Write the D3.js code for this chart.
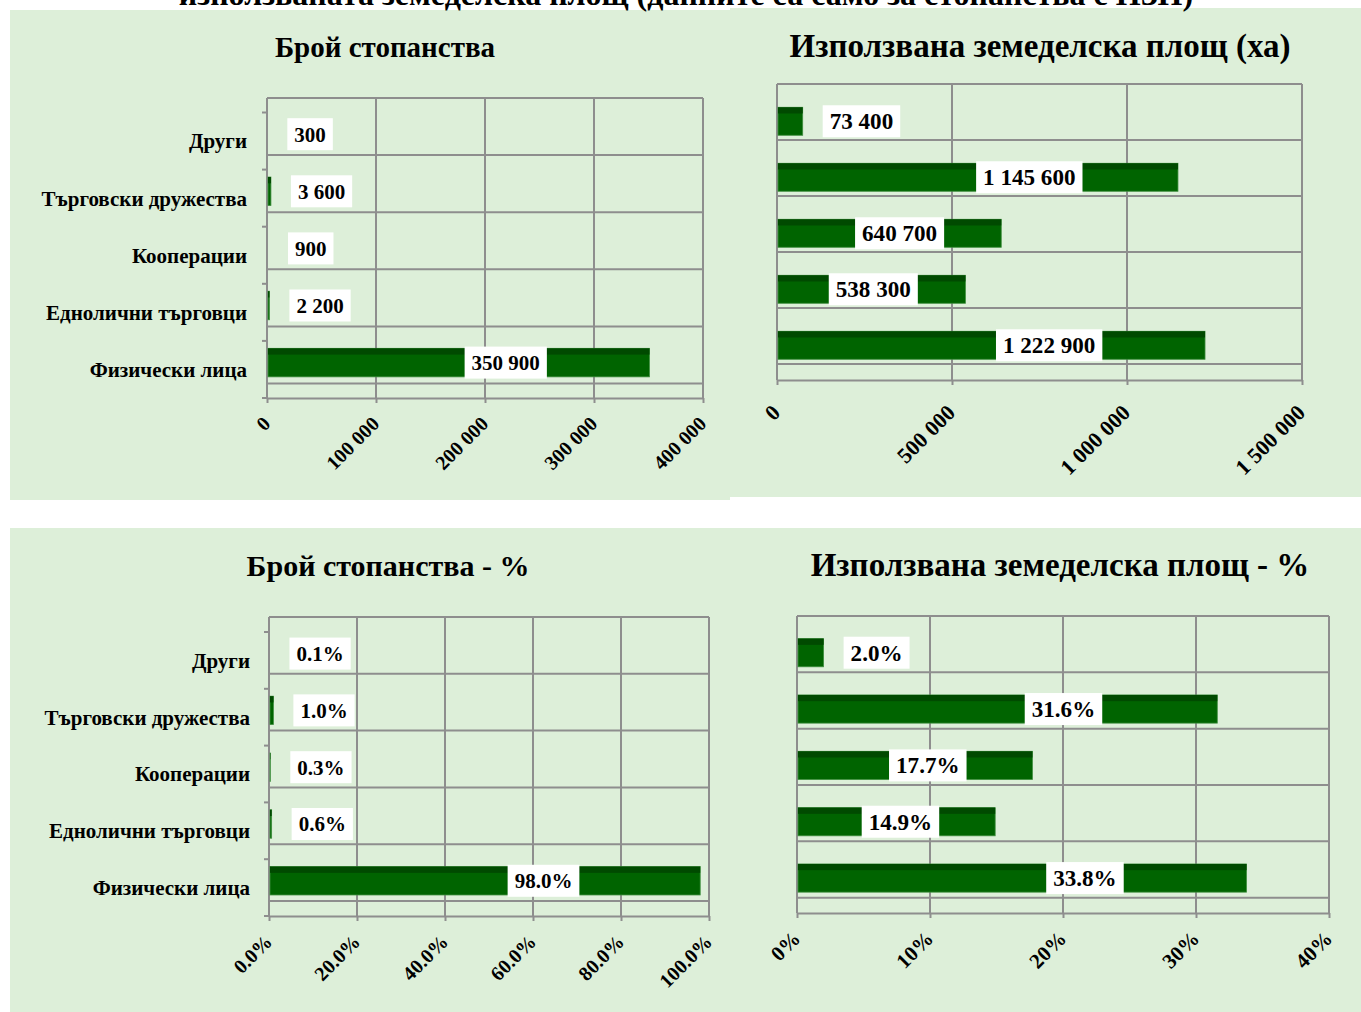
<!DOCTYPE html>
<html>
<head>
<meta charset="utf-8">
<script src="https://cdn.jsdelivr.net/npm/d3@7"></script>
<style>
  body { margin: 0; background: #fff; }
  svg { display: block; }
  text { font-family: "Liberation Serif", "Times New Roman", serif; font-weight: bold; fill: #000; }
</style>
</head>
<body>
<svg id="chart" width="1361" height="1012"></svg>
<script>
// data
const categories = ["Други", "Търговски дружества", "Кооперации", "Еднолични търговци", "Физически лица"];
const farmsCount = [300, 3600, 900, 2200, 350900];
const areaHa = [73400, 1145600, 640700, 538300, 1222900];
const farmsPct = [0.1, 1.0, 0.3, 0.6, 98.0];
const areaPct = [2.0, 31.6, 17.7, 14.9, 33.8];

const countTicks = [0, 100000, 200000, 300000, 400000];
const areaTicks = [0, 500000, 1000000, 1500000];
const farmsPctTicks = [0, 20, 40, 60, 80, 100];
const areaPctTicks = [0, 10, 20, 30, 40];

const pageTitle = "използваната земеделска площ (данните са само за стопанства с НЗП)";
const titles = ["Брой стопанства", "Използвана земеделска площ (ха)", "Брой стопанства - %", "Използвана земеделска площ - %"];

const bg = "#ddefd9";
const gridColor = "#8e8e8e";
const barColor = "#006400";
const barTop = "#004a00";

const loc = d3.formatLocale({ decimal: ".", thousands: " ", grouping: [3], currency: ["", ""] });
const fmtInt = loc.format(",d");
const fmtPct1 = v => v.toFixed(1) + "%";
const fmtPct0 = v => v.toFixed(0) + "%";

const svg = d3.select("#chart");

// backgrounds
svg.append("rect").attr("x", 10).attr("y", 10).attr("width", 720).attr("height", 490).attr("fill", bg);
svg.append("rect").attr("x", 730).attr("y", 8).attr("width", 631).attr("height", 489).attr("fill", bg);
svg.append("rect").attr("x", 10).attr("y", 528).attr("width", 1351).attr("height", 484).attr("fill", bg);

// heading of the page, cut by the top edge as in the source
svg.append("text")
  .attr("x", 686).attr("y", 5)
  .attr("text-anchor", "middle")
  .style("font-size", "32px")
  .text(pageTitle);

function drawChart(cfg) {
  const g = svg.append("g");
  const k = cfg.fontScale;

  const x = d3.scaleLinear().domain([0, d3.max(cfg.ticks)]).range([cfg.x0, cfg.x1]);
  const y = d3.scaleBand().domain(categories).range([cfg.gridTop + cfg.depth, cfg.axisY]);
  const bw = y.bandwidth();

  // title
  g.append("text")
    .attr("x", cfg.titleX).attr("y", cfg.titleY)
    .attr("text-anchor", "middle")
    .style("font-size", cfg.titleSize + "px")
    .text(cfg.title);

  // back wall gridlines (horizontal, shifted up by depth)
  const rows = categories.map(c => y(c) - cfg.depth).concat([cfg.axisY - cfg.depth]);
  g.selectAll(".hgrid").data(rows).enter().append("line")
    .attr("x1", cfg.x0).attr("x2", cfg.x1)
    .attr("y1", d => d).attr("y2", d => d)
    .attr("stroke", gridColor).attr("stroke-width", 2);

  // vertical gridlines
  g.selectAll(".vgrid").data(cfg.ticks).enter().append("line")
    .attr("x1", d => x(d)).attr("x2", d => x(d))
    .attr("y1", cfg.gridTop).attr("y2", cfg.axisY)
    .attr("stroke", gridColor).attr("stroke-width", 2);

  // left axis, ticks at band edges only where categories are named
  g.append("line")
    .attr("x1", cfg.x0).attr("x2", cfg.x0)
    .attr("y1", cfg.gridTop).attr("y2", cfg.axisY)
    .attr("stroke", gridColor).attr("stroke-width", 2);
  if (cfg.labelX) {
    g.selectAll(".ytick").data(categories.map(c => y(c)).concat([cfg.axisY])).enter().append("line")
      .attr("x1", cfg.x0 - 5).attr("x2", cfg.x0)
      .attr("y1", d => d).attr("y2", d => d)
      .attr("stroke", gridColor).attr("stroke-width", 2);
  }

  // bottom axis
  const axis = d3.axisBottom(x).tickValues(cfg.ticks).tickSize(5).tickSizeOuter(0).tickFormat(cfg.tickFmt);
  const ax = g.append("g").attr("transform", `translate(0,${cfg.axisY})`).call(axis);
  ax.select(".domain").attr("stroke", gridColor).attr("stroke-width", 2);
  ax.selectAll(".tick line").attr("stroke", gridColor).attr("stroke-width", 2);
  ax.selectAll(".tick text")
    .attr("x", 0).attr("y", 0).attr("dy", null)
    .attr("text-anchor", "end")
    .attr("transform", `translate(4,${cfg.tickDrop}) rotate(-45)`)
    .style("font-size", cfg.tickSize + "px")
    .style("font-family", "'Liberation Serif', 'Times New Roman', serif")
    .style("font-weight", "bold")
    .attr("fill", "#000");

  // category labels
  if (cfg.labelX) {
    g.selectAll(".cat").data(categories).enter().append("text")
      .attr("x", cfg.labelX)
      .attr("y", d => y(d) + bw / 2)
      .attr("dy", "0.35em")
      .attr("text-anchor", "end")
      .style("font-size", "21px")
      .text(d => d);
  }

  // bars
  const bars = g.selectAll(".bar").data(cfg.values).enter().append("g");
  bars.append("rect")
    .attr("x", cfg.x0 + 1)
    .attr("y", (d, i) => y(categories[i]) + bw * 0.13)
    .attr("width", d => Math.max(0, x(d) - cfg.x0 - 1))
    .attr("height", bw * 0.5)
    .attr("fill", barColor)
    .attr("stroke", "#3f8f3f").attr("stroke-width", 0.8);
  bars.append("rect")
    .attr("x", cfg.x0 + 1)
    .attr("y", (d, i) => y(categories[i]) + bw * 0.13)
    .attr("width", d => Math.max(0, x(d) - cfg.x0 - 1))
    .attr("height", bw * 0.11)
    .attr("fill", barTop);

  // data labels in white boxes
  const labels = g.selectAll(".lbl").data(cfg.values).enter().append("g");
  labels.each(function (d, i) {
    const lg = d3.select(this);
    const cy = y(categories[i]) + bw * 0.13 + bw * 0.25;
    const t = lg.append("text")
      .attr("text-anchor", "middle")
      .attr("dy", "0.35em")
      .style("font-size", (21 * k) + "px")
      .text(cfg.labelFmt(d));
    const w = t.node().getComputedTextLength() + 14;
    const len = x(d) - cfg.x0;
    // long bars carry the label inside, short ones just past the end
    const cx = len > 110 ? cfg.x0 + len * 0.734 - 42 : x(d) + 20 + w / 2;
    t.attr("x", cx).attr("y", cy);
    lg.insert("rect", "text")
      .attr("x", cx - w / 2).attr("y", cy - 16)
      .attr("width", w).attr("height", 32)
      .attr("fill", "#fff");
  });
}

drawChart({ title: titles[0], values: farmsCount, ticks: countTicks, tickFmt: fmtInt, labelFmt: fmtInt,
  x0: 267, x1: 703, gridTop: 98, axisY: 398, depth: 14.5, labelX: 247, titleX: 385, titleY: 57,
  titleSize: 29, tickSize: 20, tickDrop: 27, fontScale: 1 });
drawChart({ title: titles[1], values: areaHa, ticks: areaTicks, tickFmt: fmtInt, labelFmt: fmtInt,
  x0: 777, x1: 1302, gridTop: 84, axisY: 380, depth: 16, labelX: null, titleX: 1040, titleY: 57,
  titleSize: 33, tickSize: 22, tickDrop: 34, fontScale: 1.1 });
drawChart({ title: titles[2], values: farmsPct, ticks: farmsPctTicks, tickFmt: fmtPct1, labelFmt: fmtPct1,
  x0: 269, x1: 709, gridTop: 617, axisY: 916, depth: 15, labelX: 250, titleX: 388, titleY: 576,
  titleSize: 30, tickSize: 20, tickDrop: 27, fontScale: 1 });
drawChart({ title: titles[3], values: areaPct, ticks: areaPctTicks, tickFmt: fmtPct0, labelFmt: fmtPct1,
  x0: 797, x1: 1329, gridTop: 616, axisY: 913, depth: 15.3, labelX: null, titleX: 1060, titleY: 576,
  titleSize: 33, tickSize: 21, tickDrop: 27, fontScale: 1.1 });
</script>
</body>
</html>
